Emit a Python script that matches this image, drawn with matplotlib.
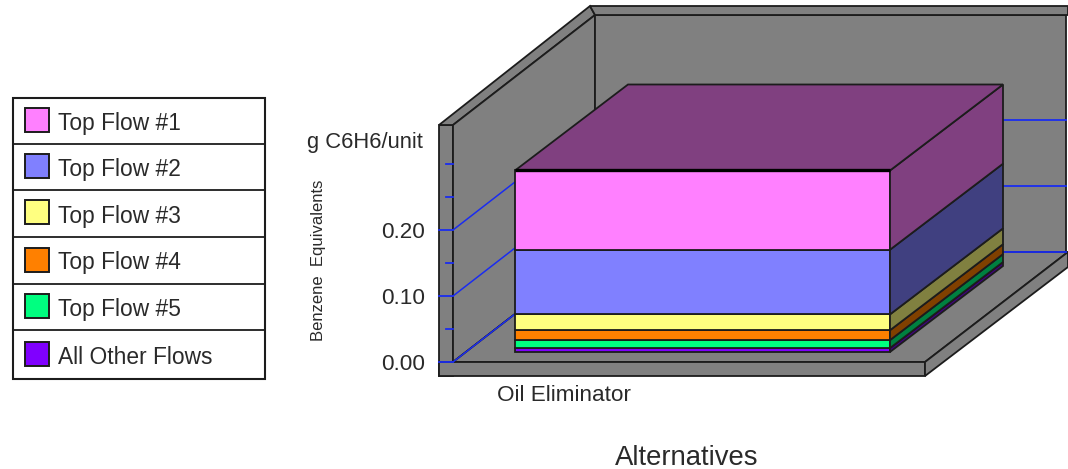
import matplotlib
matplotlib.use("Agg")
import matplotlib.pyplot as plt
from matplotlib.patches import Polygon, Rectangle

plt.rcParams['font.family'] = ['Liberation Sans', 'DejaVu Sans']

# --- Data ---
flows = ["All Other Flows", "Top Flow #5", "Top Flow #4", "Top Flow #3", "Top Flow #2", "Top Flow #1"]
values = [0.006, 0.012, 0.015, 0.024, 0.098, 0.120]
legend_order = ["Top Flow #1", "Top Flow #2", "Top Flow #3", "Top Flow #4", "Top Flow #5", "All Other Flows"]
category = "Oil Eliminator"
major_ticks = [0.0, 0.1, 0.2]
minor_ticks = [0.05, 0.15, 0.25, 0.30]
tick_labels = ["0.00", "0.10", "0.20"]

# --- Styles ---
front_colors = {"Top Flow #1": "#ff80ff", "Top Flow #2": "#8080ff", "Top Flow #3": "#ffff80",
                "Top Flow #4": "#ff8000", "Top Flow #5": "#00ff80", "All Other Flows": "#8000ff"}
side_colors = {"Top Flow #1": "#804080", "Top Flow #2": "#404080", "Top Flow #3": "#808040",
               "Top Flow #4": "#804000", "Top Flow #5": "#008040", "All Other Flows": "#400080"}
GREY = "#808080"
EDGE = "#1c1c1c"
BLUE = "#1a2cf0"
TEXT = "#2a2a2a"
LW = 1.3

# x is in pixels, y is in chart units: 0.00 sits at pixel row 362, 0.10 is 66 px
PX_PER_UNIT = 660.0
ZERO_ROW = 362.0


def units(px):
    return px / PX_PER_UNIT


fig = plt.figure(figsize=(10.68, 4.69), dpi=100)
ax = fig.add_axes([0, 0, 1, 1])
ax.set_xlim(0, 1068)
ax.set_ylim(-(469 - ZERO_ROW) / PX_PER_UNIT, ZERO_ROW / PX_PER_UNIT)
ax.axis("off")


def poly(points, color, z=1, lw=LW, ec=EDGE):
    ax.add_patch(Polygon(points, closed=True, facecolor=color, edgecolor=ec, linewidth=lw,
                         zorder=z, joinstyle="miter"))


# --- Frame (left wall, back wall, floor) ---
wall_h = units(237)
depth_x, depth_y = 142, units(110)
left, right = 453, 925
strip = 14
base_y = 0.0
poly([(left - strip, base_y - units(strip)), (left, base_y - units(strip)), (left, base_y + wall_h),
      (left - strip, base_y + wall_h)], GREY)
poly([(left - strip, base_y + wall_h), (left, base_y + wall_h),
      (left + depth_x, base_y + wall_h + depth_y), (left + depth_x - 5, base_y + wall_h + depth_y + units(9))], GREY)
poly([(left, base_y), (left + depth_x, depth_y), (left + depth_x, wall_h + depth_y), (left, wall_h)], GREY)
poly([(left + depth_x, depth_y), (1066, depth_y), (1066, wall_h + depth_y), (left + depth_x, wall_h + depth_y)], GREY)
poly([(left + depth_x - 5, wall_h + depth_y + units(9)), (1068, wall_h + depth_y + units(9)),
      (1068, wall_h + depth_y), (left + depth_x, wall_h + depth_y)], GREY)
poly([(left, base_y), (right, base_y), (right + depth_x + 1, depth_y), (left + depth_x, depth_y)], GREY)
poly([(left - strip, -units(strip)), (right, -units(strip)), (right, base_y), (left - strip, base_y)], GREY)
poly([(right, -units(strip)), (right + depth_x + 1, depth_y - units(15)), (right + depth_x + 1, depth_y), (right, base_y)], GREY)

# --- Axis ticks and gridlines ---
for t in major_ticks:
    ax.plot([left - strip, left], [t, t], color=BLUE, lw=1.3, zorder=2)
    ax.plot([left, left + depth_x], [t, t + depth_y], color=BLUE, lw=1.1, zorder=2)
    ax.plot([left + depth_x, 1066], [t + depth_y, t + depth_y], color=BLUE, lw=1.3, zorder=2)
for t in minor_ticks:
    ax.plot([left - strip / 2, left], [t, t], color=BLUE, lw=1.3, zorder=2)

# --- Stacked bar ---
bar_x0, bar_x1 = 515, 890
bar_dx, bar_dy = 113, units(86)
stack_base = units(10)
bottom = stack_base
for i, (name, val) in enumerate(zip(flows, values)):
    z = 3 + i
    top = bottom + val
    poly([(bar_x0, bottom), (bar_x1, bottom), (bar_x1, top), (bar_x0, top)], front_colors[name], z=z)
    poly([(bar_x1, bottom), (bar_x1 + bar_dx, bottom + bar_dy), (bar_x1 + bar_dx, top + bar_dy), (bar_x1, top)],
         side_colors[name], z=z)
    bottom = top
poly([(bar_x0, bottom), (bar_x1, bottom), (bar_x1 + bar_dx, bottom + bar_dy), (bar_x0 + bar_dx, bottom + bar_dy)],
     side_colors[flows[-1]], z=10)
ax.plot([bar_x0, bar_x1], [bottom, bottom], color="black", lw=2.4, zorder=11, solid_capstyle="butt")

# --- Axis text ---
for t, lab in zip(major_ticks, tick_labels):
    ax.text(425, t, lab, ha="right", va="center_baseline", fontsize=16.2, color=TEXT)
ax.text(307, units(362 - 140), "g C6H6/unit", ha="left", va="center_baseline", fontsize=15.8, color=TEXT)
ax.text(318, units(362 - 260), "Benzene  Equivalents", rotation=90, ha="center", va="center",
        fontsize=12, color=TEXT)
ax.text(564, units(362 - 395), category, ha="center", va="center", fontsize=16.2, color=TEXT)
ax.text(687, units(362 - 458), "Alternatives", ha="center", va="center", fontsize=19.8, color=TEXT)

# --- Legend ---
rows = [98, 144, 190, 237, 284, 330, 379]
ax.add_patch(Rectangle((13, units(362 - 379)), 252, units(379 - 98), facecolor="white", edgecolor=EDGE, lw=1.5))
for r in rows[1:-1]:
    ax.plot([13, 265], [units(362 - r), units(362 - r)], color=EDGE, lw=1.3)
for i, name in enumerate(legend_order):
    mid = (rows[i] + rows[i + 1]) / 2 - 1
    ax.add_patch(Rectangle((25, units(362 - mid - 12)), 24, units(24), facecolor=front_colors[name],
                           edgecolor=EDGE, lw=1.4))
    ax.text(58, units(362 - mid - 1), name, ha="left", va="center_baseline", fontsize=16.4, color=TEXT)

fig.savefig("out.png", dpi=100)
